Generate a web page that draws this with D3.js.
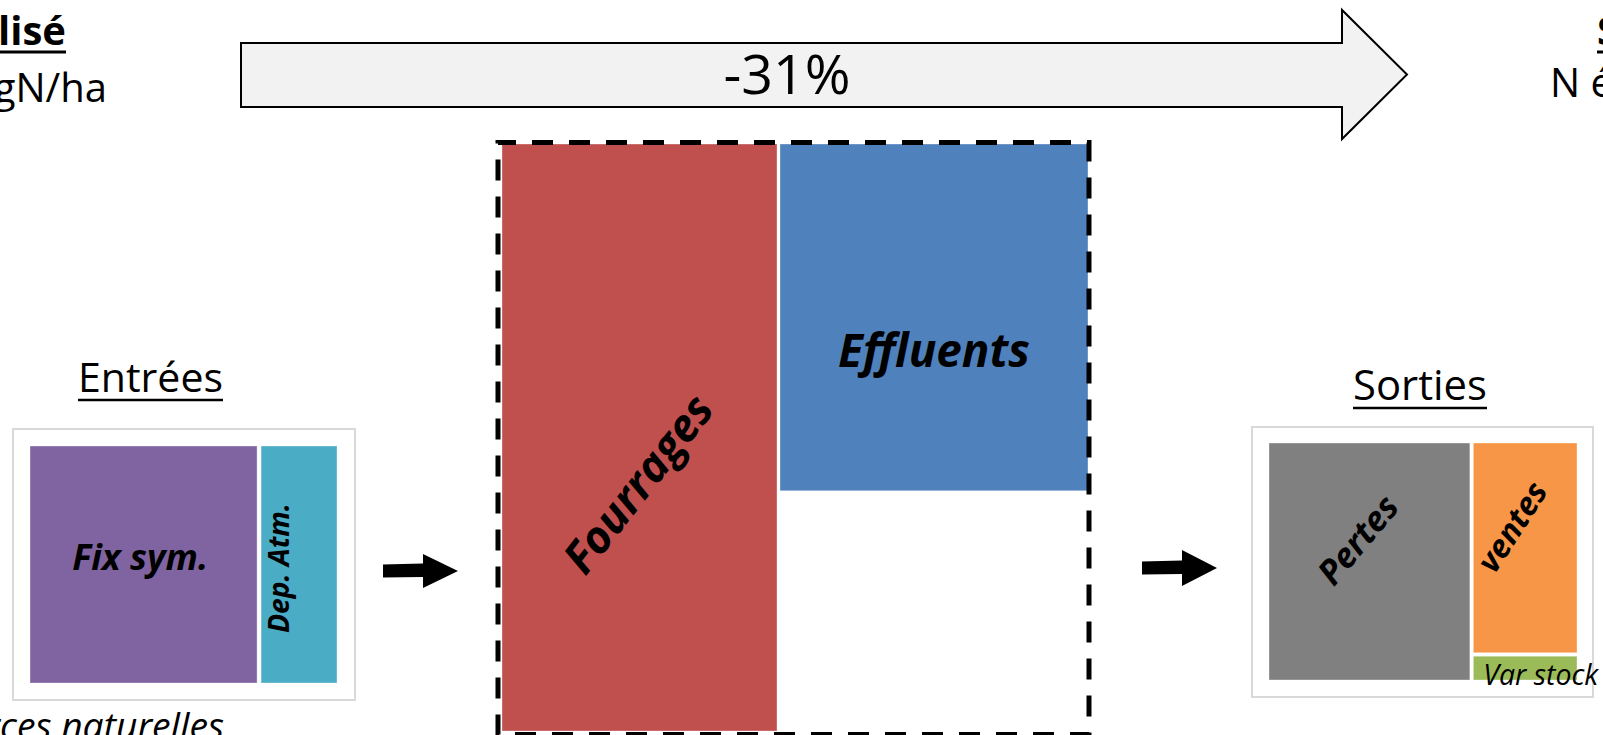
<!DOCTYPE html>
<html>
<head>
<meta charset="utf-8">
<script src="https://cdn.jsdelivr.net/npm/d3@7"></script>
<style>
  body { margin: 0; background: #fff; }
  svg { display: block; font-family: "Open Sans", sans-serif; }
</style>
</head>
<body>
<div id="chart"></div>
<script>
// ---- data (relative shares) ----
const entreesLabels = ["Fix sym.", "Dep. Atm."];
const entreesValues = [74.3, 25.7];
const entreesColors = ["#8064a2", "#4bacc6"];

const internesLabels = ["Fourrages", "Effluents", ""];
const internesValues = [47.2, 31.3, 21.5];
const internesColors = ["#c0504d", "#4f81bd", "none"];

const sortiesLabels = ["Pertes", "ventes", "Var stock"];
const sortiesValues = [65.6, 30.5, 3.9];
const sortiesColors = ["#808080", "#f79646", "#9bbb59"];

const variation = "-31%";
const titreGauche = "Spécialisé";
const sousTitreGauche = "N échangé : 290 kgN/ha";
const titreDroite = "Système";
const sousTitreDroite = "N échangé : 200 kgN/ha";

const width = 1603, height = 735;

const svg = d3.select("#chart").append("svg")
    .attr("width", width)
    .attr("height", height);

// shrink/grow a text so it is "target" px long
function fitText(sel, target) {
    const fs = parseFloat(sel.attr("font-size"));
    const w = sel.node().getComputedTextLength();
    sel.attr("font-size", fs * target / w);
    return sel;
}

function underline(sel, y, thick) {
    const b = sel.node().getBBox();
    svg.append("line")
        .attr("x1", b.x).attr("x2", b.x + b.width)
        .attr("y1", y).attr("y2", y)
        .attr("stroke", "#000").attr("stroke-width", thick);
}

// build a slice/dice treemap and draw its leaves
function drawBlock(tree, x, y, w, h, pad) {
    const root = d3.hierarchy(tree).sum(d => d.value || 0);
    d3.treemap().tile(d3.treemapSliceDice).size([w, h]).paddingInner(pad)(root);
    const g = svg.append("g").attr("transform", `translate(${x},${y})`);
    g.selectAll("rect")
        .data(root.leaves())
        .join("rect")
        .attr("x", d => d.x0)
        .attr("y", d => d.y0)
        .attr("width", d => d.x1 - d.x0)
        .attr("height", d => d.y1 - d.y0)
        .attr("fill", d => d.data.color)
        .attr("stroke", d => d.data.color === "none" ? "none" : "rgba(255,255,255,0.35)")
        .attr("stroke-width", 1);
    root.leaves().forEach(d => {
        d.gx0 = x + d.x0; d.gx1 = x + d.x1;
        d.gy0 = y + d.y0; d.gy1 = y + d.y1;
    });
    return root;
}

// label inside a leaf, (fx, fy) = relative position of label centre
function leafLabel(leaf, fx, fy, angle, target, opts = {}) {
    const cx = leaf.gx0 + fx * (leaf.gx1 - leaf.gx0);
    const cy = leaf.gy0 + fy * (leaf.gy1 - leaf.gy0);
    const t = svg.append("text")
        .attr("transform", `translate(${cx},${cy}) rotate(${angle})`)
        .attr("text-anchor", "middle")
        .attr("dy", "0.35em")
        .attr("font-size", 30)
        .attr("font-weight", opts.weight || "bold")
        .attr("font-style", "italic")
        .attr("fill", "#000")
        .text(leaf.data.name);
    fitText(t, target);
}

function mk(labels, values, colors, i) {
    return { name: labels[i], value: values[i], color: colors[i] };
}

// ---- big arrow across the top ----
const big = { x0: 241, x1: 1342, tip: 1407, yTop: 43, yBot: 107, headTop: 10, headBot: 139 };
const bigPts = [
    [big.x0, big.yTop], [big.x1, big.yTop], [big.x1, big.headTop],
    [big.tip, (big.headTop + big.headBot) / 2], [big.x1, big.headBot],
    [big.x1, big.yBot], [big.x0, big.yBot]
];
svg.append("path")
    .attr("d", d3.line()(bigPts) + "Z")
    .attr("fill", "#f2f2f2")
    .attr("stroke", "#000")
    .attr("stroke-width", 2);
fitText(svg.append("text")
    .attr("x", 787).attr("y", 94)
    .attr("text-anchor", "middle")
    .attr("font-size", 54)
    .text(variation), 127);

// ---- titles (cut by the frame) ----
const tg = svg.append("text")
    .attr("x", 66).attr("y", 45).attr("text-anchor", "end")
    .attr("font-size", 40).attr("font-weight", "bold")
    .text(titreGauche);
underline(tg, 52, 3);
svg.append("text")
    .attr("x", 107).attr("y", 102).attr("text-anchor", "end")
    .attr("font-size", 40)
    .text(sousTitreGauche);
const td = svg.append("text")
    .attr("x", 1597).attr("y", 45)
    .attr("font-size", 40).attr("font-weight", "bold")
    .text(titreDroite);
underline(td, 52, 3);
svg.append("text")
    .attr("x", 1550).attr("y", 97)
    .attr("font-size", 40)
    .text(sousTitreDroite);

// ---- Entrées ----
svg.append("rect")
    .attr("x", 13).attr("y", 429).attr("width", 342).attr("height", 271)
    .attr("fill", "#fff").attr("stroke", "#d9d9d9").attr("stroke-width", 2);
const entRoot = drawBlock({
    children: [mk(entreesLabels, entreesValues, entreesColors, 0),
               mk(entreesLabels, entreesValues, entreesColors, 1)]
}, 30, 446, 307, 237, 4);
const entLeaves = entRoot.leaves();
leafLabel(entLeaves[0], 0.485, 0.47, 0, 136);
leafLabel(entLeaves[1], 0.24, 0.515, -90, 130);

const entT = svg.append("text")
    .attr("x", 150.5).attr("y", 392).attr("text-anchor", "middle")
    .attr("font-size", 40).text("Entrées");
fitText(entT, 145);
underline(entT, 400, 2.5);

// "Ressources naturelles" under the box, cut on the left
const probe = svg.append("text").attr("font-size", 30).attr("font-style", "italic").text("ces naturelles");
fitText(probe, 224);
const natSize = probe.attr("font-size");
probe.remove();
svg.append("text")
    .attr("x", 224).attr("y", 739).attr("text-anchor", "end")
    .attr("font-size", natSize).attr("font-style", "italic")
    .text("Ressources naturelles");

// ---- flux internes ----
const intRoot = drawBlock({
    children: [mk(internesLabels, internesValues, internesColors, 0),
               { children: [mk(internesLabels, internesValues, internesColors, 1),
                            mk(internesLabels, internesValues, internesColors, 2)] }]
}, 502, 144, 586, 587, 3);
const intLeaves = intRoot.leaves();
svg.append("rect")
    .attr("x", 498).attr("y", 142.5)
    .attr("width", 591).attr("height", 592)
    .attr("fill", "none")
    .attr("stroke", "#000")
    .attr("stroke-width", 5)
    .attr("stroke-dasharray", "21 16")
    .attr("stroke-dashoffset", 3);
leafLabel(intLeaves[0], 0.495, 0.579, -52, 212);
leafLabel(intLeaves[1], 0.5, 0.598, 0, 192);

// ---- Sorties ----
svg.append("rect")
    .attr("x", 1252).attr("y", 427).attr("width", 341).attr("height", 270)
    .attr("fill", "#fff").attr("stroke", "#d9d9d9").attr("stroke-width", 2);
const sorRoot = drawBlock({
    children: [mk(sortiesLabels, sortiesValues, sortiesColors, 0),
               { children: [mk(sortiesLabels, sortiesValues, sortiesColors, 1),
                            mk(sortiesLabels, sortiesValues, sortiesColors, 2)] }]
}, 1269, 443, 308, 237, 3.5);
const sorLeaves = sorRoot.leaves();
leafLabel(sorLeaves[0], 0.443, 0.409, -50, 104);
leafLabel(sorLeaves[1], 0.375, 0.4, -57, 100);
const vs = svg.append("text")
    .attr("x", sorLeaves[2].gx0 + 10).attr("y", sorLeaves[2].gy1 + 5)
    .attr("font-size", 24).attr("font-style", "italic")
    .text(sorLeaves[2].data.name);
fitText(vs, 115);

const sorT = svg.append("text")
    .attr("x", 1420).attr("y", 400).attr("text-anchor", "middle")
    .attr("font-size", 40).text("Sorties");
fitText(sorT, 134);
underline(sorT, 408, 2.5);

// ---- small black arrows ----
function smallArrow(x0, xh, xt, yc, shaft, head) {
    const pts = [
        [x0, yc - shaft / 2 - 0.5], [xh, yc - shaft / 2 - 1.5], [xh, yc - head / 2],
        [xt, yc], [xh, yc + head / 2], [xh, yc + shaft / 2], [x0, yc + shaft / 2 + 0.5]
    ];
    svg.append("path").attr("d", d3.line()(pts) + "Z").attr("fill", "#000");
}
smallArrow(383, 423, 458, 571, 12, 34);
smallArrow(1142, 1182, 1217, 568, 12, 36);
</script>
</body>
</html>
